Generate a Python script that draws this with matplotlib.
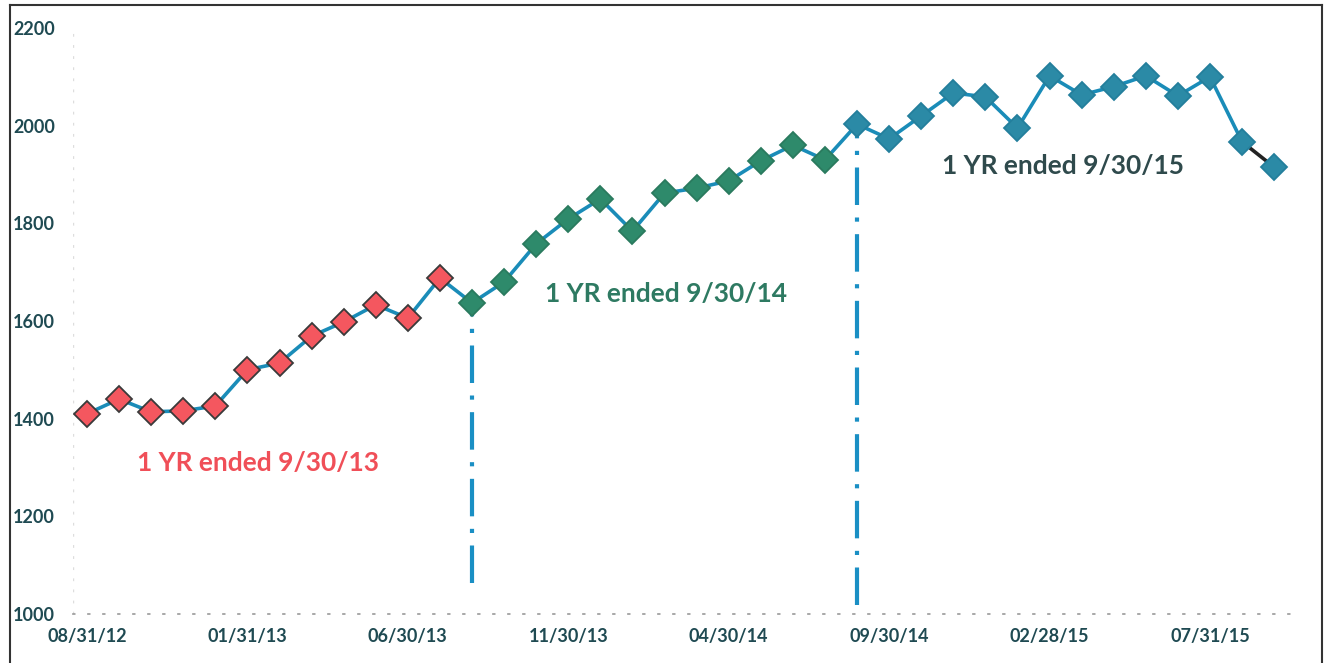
import matplotlib
matplotlib.use("Agg")
import matplotlib.pyplot as plt
from matplotlib.lines import Line2D

dates = ["08/31/12","09/30/12","10/31/12","11/30/12","12/31/12","01/31/13","02/28/13","03/31/13",
         "04/30/13","05/31/13","06/30/13","07/31/13","08/31/13","09/30/13","10/31/13","11/30/13",
         "12/31/13","01/31/14","02/28/14","03/31/14","04/30/14","05/31/14","06/30/14","07/31/14",
         "08/31/14","09/30/14","10/31/14","11/30/14","12/31/14","01/31/15","02/28/15","03/31/15",
         "04/30/15","05/31/15","06/30/15","07/31/15","08/31/15","09/30/15"]
values = [1410, 1440, 1414, 1416, 1426, 1500, 1514, 1569, 1598, 1633, 1606, 1688,
          1637, 1680, 1758, 1809, 1850, 1784, 1862, 1872, 1887, 1928, 1960, 1930,
          2003, 1973, 2020, 2067, 2059, 1995, 2102, 2063, 2080, 2102, 2061, 2100,
          1967, 1915]
# period group of each point: 0 = yr ended 9/30/13, 1 = 9/30/14, 2 = 9/30/15
groups = [0]*12 + [1]*12 + [2]*14
tick_labels = ["08/31/12","01/31/13","06/30/13","11/30/13","04/30/14","09/30/14","02/28/15","07/31/15"]
tick_idx = [0, 5, 10, 15, 20, 25, 30, 35]
yticks = [1000, 1200, 1400, 1600, 1800, 2000, 2200]
divider_idx = [12, 24]
divider_bottom = [1063, 1018]
period_labels = ["1 YR ended 9/30/13", "1 YR ended 9/30/14", "1 YR ended 9/30/15"]
label_pos = [(5.33, 1310), (18.06, 1655), (30.43, 1918)]

W, H = 1329, 663
fig = plt.figure(figsize=(W/100, H/100), dpi=100)
ax = fig.add_axes([73/W, 1-614/H, (1290-73)/W, (614-28)/H])
px_per = (1210-87)/35
ax.set_xlim(-(87-73)/px_per, (1290-87)/px_per)
ax.set_ylim(1000, 2200)

line_c = "#1a8cb8"
face = ["#f4575f", "#2e8a6b", "#2b8aa6"]
edge = ["#3a3a3a", "#2a7a5e", "#237f9c"]
text_c = ["#f04f58", "#2e7a62", "#2f4a4c"]

x = list(range(len(values)))
# dividers
for di, db in zip(divider_idx, divider_bottom):
    ax.plot([di, di], [db, values[di]], color="#1a8fc4", lw=3,
            linestyle=(0, (9, 3, 1, 3)), zorder=1, solid_capstyle="butt")
ax.plot(x[:-1], values[:-1], color=line_c, lw=2.6, zorder=2)
ax.plot(x[-2:], values[-2:], color="#222222", lw=2.6, zorder=2)
for g in range(3):
    xs = [i for i in x if groups[i] == g]
    ys = [values[i] for i in xs]
    ax.plot(xs, ys, linestyle="none", marker="D", markersize=13,
            markerfacecolor=face[g], markeredgecolor=edge[g], markeredgewidth=1.3, zorder=3)

for (lx, ly), t, c in zip(label_pos, period_labels, text_c):
    ax.text(lx, ly, t, ha="center", va="center", color=c, fontsize=19,
            fontfamily="Lato", fontweight="bold")

for s in ["top", "right", "left"]:
    ax.spines[s].set_visible(False)
ax.spines["bottom"].set_color("#999999")
ax.spines["bottom"].set_linestyle((0, (1, 8)))
ax.spines["bottom"].set_linewidth(1.2)
ax.axvline(-(87-73)/px_per, color="#dddddd", lw=1, linestyle=(0, (2, 6)))

ax.set_yticks(yticks)
ax.set_yticklabels([str(v) for v in yticks])
ax.set_xticks(tick_idx)
ax.set_xticklabels(tick_labels)
ax.tick_params(axis="y", length=0, pad=13, labelsize=13, labelcolor="#1f4a52")
ax.tick_params(axis="x", length=0, pad=10, labelsize=13, labelcolor="#1f4a52")
for lab in ax.get_xticklabels() + ax.get_yticklabels():
    lab.set_fontfamily("Lato")
    lab.set_fontweight("bold")

# outer frame
fig.add_artist(Line2D([10/W, 10/W], [0, 1-5/H], color="#333333", lw=1.5))
fig.add_artist(Line2D([10/W, 1322/W], [1-5/H, 1-5/H], color="#333333", lw=1.5))
fig.add_artist(Line2D([1322/W, 1322/W], [0, 1-5/H], color="#333333", lw=1.5))

fig.savefig("out.png", dpi=100)
